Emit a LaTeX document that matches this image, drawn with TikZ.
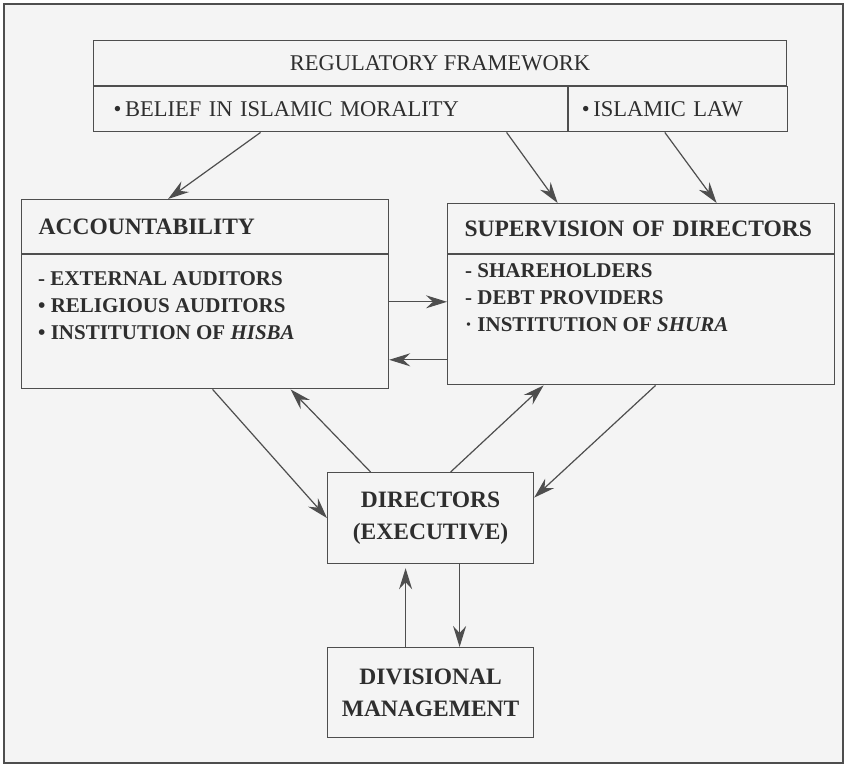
\documentclass[tikz,border=0pt]{standalone}
\usepackage{fontspec}
\setmainfont{Liberation Serif}
\usetikzlibrary{arrows.meta}
\definecolor{paper}{HTML}{F4F4F4}
\definecolor{ink}{HTML}{2E2E2E}
\definecolor{rulecol}{HTML}{4E4E4E}

\begin{document}
\begin{tikzpicture}[
  x=1pt, y=-1pt,
  every node/.style={text=ink},
  box/.style={
    draw=rulecol,
    rectangle,
    line width=1.2pt,
    anchor=north west,
    inner sep=0pt
  },
  regtext/.style={font=\fontsize{22.5}{26}\selectfont},
  headtext/.style={font=\bfseries\fontsize{23.5}{28}\selectfont},
  centertext/.style={font=\bfseries\fontsize{23.5}{32}\selectfont, align=center},
  itemtext/.style={
    font=\bfseries\fontsize{21}{27}\selectfont,
    align=left,
    anchor=north west,
    inner sep=0pt
  },
  arrow/.style={-{Stealth[length=21pt,width=13pt,inset=7pt]}, draw=rulecol, line width=1.2pt}
]

\useasboundingbox (0,0) rectangle (849,766);
\draw[rulecol, line width=1.3pt, fill=paper] (4,4) rectangle (843,763);

% regulatory framework
\node[box, regtext, minimum width=693pt, minimum height=45pt] (reg) at (93,40) {REGULATORY FRAMEWORK};
\node[box, regtext, minimum height=45pt, inner xsep=20pt, text width=434pt, align=left] (moral) at (reg.south west) {\textbullet\,BELIEF IN ISLAMIC MORALITY};
\node[box, regtext, minimum height=45pt, inner xsep=13pt, text width=193pt, align=left] (law) at (moral.north east) {\textbullet\,ISLAMIC LAW};

% accountability
\node[box, headtext, minimum height=54pt, inner xsep=17pt, text width=333pt, align=left] (acchead) at (21,199) {ACCOUNTABILITY};
\node[box, minimum width=367pt, minimum height=134pt] (accbody) at (acchead.south west) {};
\node[itemtext] (acclist) at ([shift={(17pt,-17pt)}]accbody.north west) {- EXTERNAL AUDITORS\\\textbullet\ RELIGIOUS AUDITORS\\\textbullet\ INSTITUTION OF \textit{HISBA}};

% supervision
\node[box, headtext, minimum height=50pt, inner xsep=17pt, text width=353pt, align=left] (suphead) at (447,203) {SUPERVISION OF DIRECTORS};
\node[box, minimum width=387pt, minimum height=130pt] (supbody) at (suphead.south west) {};
\node[itemtext] (suplist) at ([shift={(18pt,-9pt)}]supbody.north west) {- SHAREHOLDERS\\- DEBT PROVIDERS\\· INSTITUTION OF \textit{SHURA}};

% directors and management
\node[box, centertext, minimum width=206pt, minimum height=91pt] (dir) at (327,472) {DIRECTORS\\(EXECUTIVE)};
\node[box, centertext, minimum width=206pt, minimum height=90pt] (div) at (327,647) {DIVISIONAL\\MANAGEMENT};

\draw[arrow] ([xshift=-70pt]moral.south) -- ([xshift=-37pt]acchead.north);
\draw[arrow] ([xshift=176pt]moral.south) -- ([xshift=-83.5pt]suphead.north);
\draw[arrow] ([xshift=-13.5pt]law.south) -- ([xshift=75.5pt]suphead.north);

\draw[arrow] ([yshift=20pt]accbody.east) -- ([yshift=18pt]supbody.west);
\draw[arrow] ([yshift=-40pt]supbody.west) -- ([yshift=-38pt]accbody.east);

\draw[arrow] ([xshift=7.5pt]accbody.south) -- (dir.west);
\draw[arrow] ([xshift=-60pt]dir.north) -- ([xshift=85.5pt]accbody.south);
\draw[arrow] ([xshift=20pt]dir.north) -- ([xshift=-97.5pt]supbody.south);
\draw[arrow] ([xshift=14.5pt]supbody.south) -- ([yshift=20.5pt]dir.east);

\draw[arrow] ([xshift=29pt]dir.south) -- ([xshift=29pt]div.north);
\draw[arrow] ([xshift=-25pt]div.north) -- ([xshift=-25pt,yshift=-4pt]dir.south);

\end{tikzpicture}
\end{document}
